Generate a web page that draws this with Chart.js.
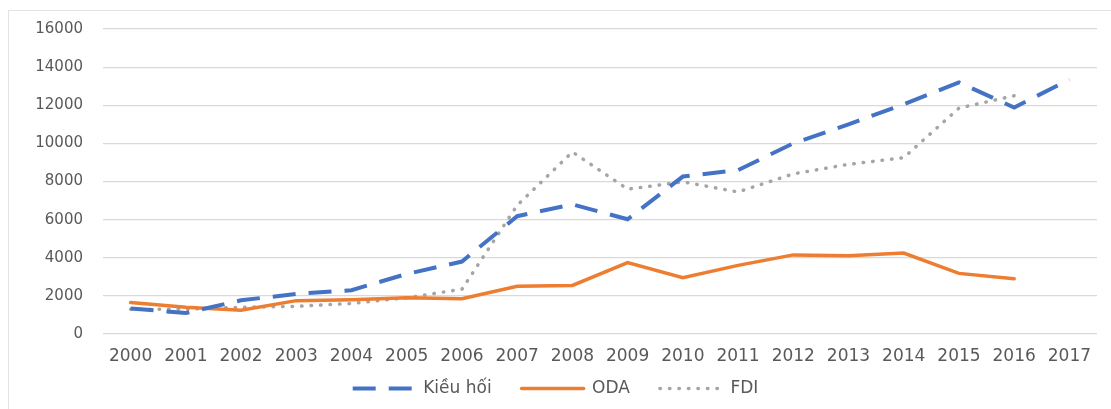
<!DOCTYPE html>
<html>
<head>
<meta charset="utf-8">
<script src="https://cdn.jsdelivr.net/npm/chart.js@4"></script>
<style>
  html, body { margin: 0; padding: 0; background: #fff; }
  #wrap { position: relative; width: 1111px; height: 409px; overflow: hidden; }
  #frame { position: absolute; left: 8px; top: 10px; width: 1200px; height: 398px;
           border-left: 1px solid #e3e3e3; border-top: 1px solid #e3e3e3; border-bottom: 1px solid #e3e3e3; }
  canvas { position: absolute; left: 0; top: 0; }
</style>
</head>
<body>
<div id="wrap">
  <div id="frame"></div>
  <canvas id="c" width="1111" height="409"></canvas>
</div>
<script>
const years = ['2000','2001','2002','2003','2004','2005','2006','2007','2008','2009','2010','2011','2012','2013','2014','2015','2016','2017'];
const kieuHoi = [1340, 1100, 1770, 2100, 2300, 3150, 3800, 6180, 6800, 6020, 8260, 8600, 10000, 11000, 12050, 13200, 11880, 13350];
const oda     = [1650, 1400, 1250, 1750, 1800, 1900, 1850, 2500, 2550, 3750, 2950, 3600, 4150, 4100, 4250, 3180, 2900, null];
const fdi     = [1300, 1300, 1400, 1450, 1600, 1900, 2350, 6750, 9550, 7600, 7980, 7450, 8400, 8900, 9250, 11850, 12500, null];
const yTicks  = [0, 2000, 4000, 6000, 8000, 10000, 12000, 14000, 16000];
const seriesNames = ['Kiều hối', 'ODA', 'FDI'];

const FONT = "'DejaVu Sans', sans-serif";
const TXT = '#595959';

new Chart(document.getElementById('c'), {
  type: 'line',
  data: {
    labels: years,
    datasets: [
      { label: seriesNames[0], data: kieuHoi, borderColor: '#4472C4', backgroundColor: '#4472C4',
        borderWidth: 4, borderDash: [23, 13], borderCapStyle: 'butt', pointRadius: 0, pointStyle: 'line',
        tension: 0 },
      { label: seriesNames[1], data: oda, borderColor: '#ED7D31', backgroundColor: '#ED7D31',
        borderWidth: 3.5, borderCapStyle: 'round', pointRadius: 0, pointStyle: 'line', tension: 0 },
      { label: seriesNames[2], data: fdi, borderColor: '#A5A5A5', backgroundColor: '#A5A5A5',
        borderWidth: 3.5, borderDash: [0.5, 9], borderCapStyle: 'round', pointRadius: 0, pointStyle: 'line', tension: 0 }
    ]
  },
  options: {
    responsive: false,
    animation: false,
    layout: { padding: { left: 14, right: 14, top: 28, bottom: 2 } },
    plugins: {
      legend: {
        position: 'bottom',
        labels: {
          usePointStyle: true,
          pointStyleWidth: 62,
          boxHeight: 16,
          padding: 30,
          color: TXT,
          font: { family: FONT, size: 17 },
          generateLabels: chart => {
            const items = Chart.defaults.plugins.legend.labels.generateLabels(chart);
            return items.map(it => {
              const ds = chart.data.datasets[it.datasetIndex];
              return Object.assign(it, {
                lineDash: ds.borderDash || [],
                lineWidth: ds.borderWidth,
                lineCap: ds.borderCapStyle,
                strokeStyle: ds.borderColor,
                fillStyle: ds.borderColor,
                pointStyle: 'line'
              });
            });
          }
        }
      },
      tooltip: { enabled: false }
    },
    scales: {
      x: {
        offset: true,
        grid: { display: false, drawTicks: false },
        border: { display: false },
        afterFit: s => { s.height = 16; s._computeLabelArea = () => undefined; },
        ticks: { color: TXT, font: { family: FONT, size: 17 }, maxRotation: 0, autoSkip: false, padding: 12 }
      },
      y: {
        min: 0, max: 16000,
        afterBuildTicks: s => { s.ticks = yTicks.map(v => ({ value: v })); },
        afterFit: s => { s.width = 89; },
        grid: { color: '#d9d9d9', lineWidth: 1.2, drawTicks: false },
        border: { display: false },
        ticks: { color: TXT, font: { family: FONT, size: 15 }, padding: 20, callback: v => String(v) }
      }
    }
  }
});
</script>
</body>
</html>
